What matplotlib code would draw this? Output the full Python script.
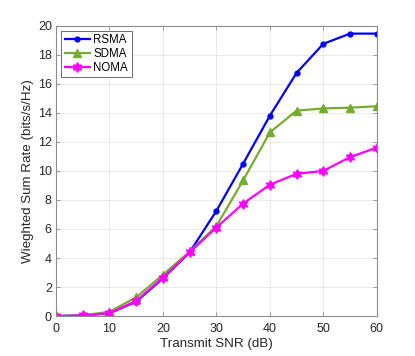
import numpy as np
import matplotlib.pyplot as plt

plt.rcParams['font.family'] = ['Liberation Sans', 'DejaVu Sans']

snr = [0, 5, 10, 15, 20, 25, 30, 35, 40, 45, 50, 55, 60]
rsma = [0.0, 0.05, 0.2, 1.0, 2.6, 4.4, 7.25, 10.5, 13.8, 16.75, 18.75, 19.45, 19.45]
sdma = [0.0, 0.05, 0.3, 1.3, 2.85, 4.45, 6.2, 9.35, 12.65, 14.15, 14.3, 14.35, 14.45]
noma = [0.0, 0.05, 0.2, 1.05, 2.65, 4.4, 6.1, 7.75, 9.05, 9.8, 10.0, 10.95, 11.6]

fig = plt.figure(figsize=(4.15, 3.56), dpi=100)
ax = fig.add_axes([0.135, 0.112, 0.773, 0.816])

ax.plot(snr, rsma, color='#0000ff', marker='o', markersize=3.5, linewidth=1.6, label='RSMA')
ax.plot(snr, sdma, color='#77ac30', marker='^', markersize=6, linewidth=1.6, label='SDMA')
ax.plot(snr, noma, color='#ff00ff', marker=(6, 1, 0), markersize=7, linewidth=1.6, label='NOMA')

ax.set_xlim(0, 60)
ax.set_ylim(0, 20)
ax.set_xticks(range(0, 61, 10))
ax.set_yticks(range(0, 21, 2))
ax.grid(True, color='#e6e6e6', linewidth=0.6)
ax.set_axisbelow(True)
for s in ax.spines.values():
    s.set_color('#8c8c8c')
    s.set_linewidth(0.8)
ax.tick_params(labelsize=9, length=3, width=0.6, direction='in',
               top=True, right=True, pad=3)
ax.tick_params(axis='x', pad=5)
ax.tick_params(axis='both', colors='#8c8c8c', labelcolor='#262626')

ax.set_xlabel('Transmit SNR (dB)', fontsize=9.6, color='#262626', labelpad=2)
ax.set_ylabel('Wieghted Sum Rate (bits/s/Hz)', fontsize=9.6, color='#262626', labelpad=3)

leg = ax.legend(loc='upper left', fontsize=8.3, fancybox=False, framealpha=1,
                edgecolor='#555555', borderpad=0.3, labelspacing=0.15,
                handlelength=2.2, handletextpad=0.3, borderaxespad=0.45)
leg.get_frame().set_linewidth(0.6)

fig.savefig('out.png', dpi=100)
